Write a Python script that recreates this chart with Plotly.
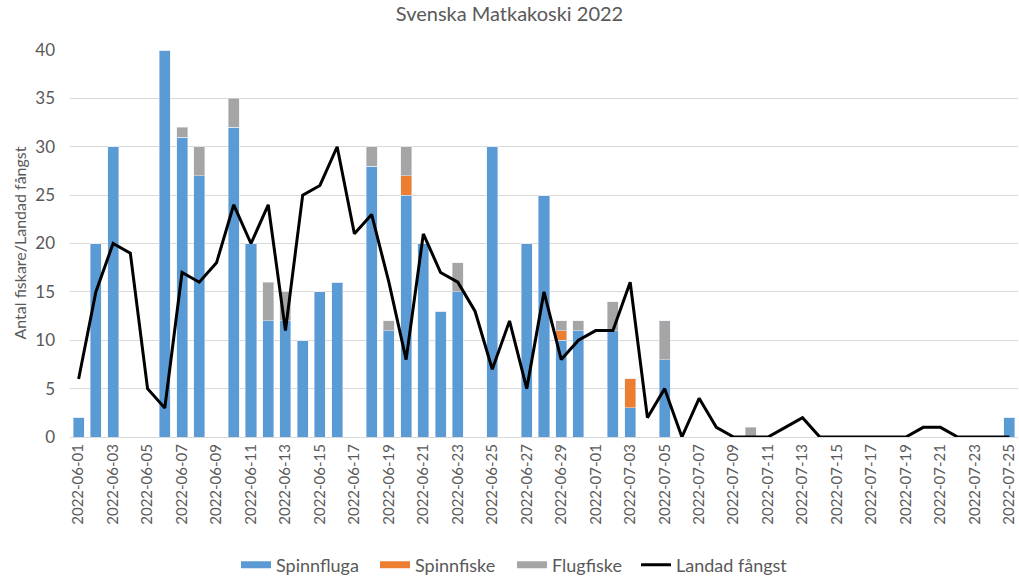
import plotly.graph_objects as go
import pandas as pd

dates = [d.strftime("%Y-%m-%d") for d in pd.date_range("2022-06-01", "2022-07-25")]

spinnfluga = [2, 20, 30, 0, 0, 40, 31, 27, 0, 32, 20, 12, 12, 10, 15, 16, 0, 28, 11, 25,
              20, 13, 15, 0, 30, 0, 20, 25, 10, 11, 0, 11, 3, 0, 8, 0, 0, 0, 0, 0,
              0, 0, 0, 0, 0, 0, 0, 0, 0, 0, 0, 0, 0, 0, 2]
spinnfiske = [0, 0, 0, 0, 0, 0, 0, 0, 0, 0, 0, 0, 0, 0, 0, 0, 0, 0, 0, 2,
              0, 0, 0, 0, 0, 0, 0, 0, 1, 0, 0, 0, 3, 0, 0, 0, 0, 0, 0, 0,
              0, 0, 0, 0, 0, 0, 0, 0, 0, 0, 0, 0, 0, 0, 0]
flugfiske = [0, 0, 0, 0, 0, 0, 1, 3, 0, 3, 0, 4, 3, 0, 0, 0, 0, 2, 1, 3,
             0, 0, 3, 0, 0, 0, 0, 0, 1, 1, 0, 3, 0, 0, 4, 0, 0, 0, 0, 1,
             0, 0, 0, 0, 0, 0, 0, 0, 0, 0, 0, 0, 0, 0, 0]
landad = [6, 15, 20, 19, 5, 3, 17, 16, 18, 24, 20, 24, 11, 25, 26, 30, 21, 23, 16, 8,
          21, 17, 16, 13, 7, 12, 5, 15, 8, 10, 11, 11, 16, 2, 5, 0, 4, 1, 0, 0,
          0, 1, 2, 0, 0, 0, 0, 0, 0, 1, 1, 0, 0, 0, 0]

series = [("Spinnfluga", spinnfluga, "#5B9BD5"),
          ("Spinnfiske", spinnfiske, "#ED7D31"),
          ("Flugfiske", flugfiske, "#A5A5A5")]

font_family = "Lato, 'Open Sans', sans-serif"
txt = "#595959"

W, H = 1019, 577
L, R, T, B = 70, 1, 50, 140
plot_w = W - L - R
plot_h = H - T - B

fig = go.Figure()
for name, vals, col in series:
    fig.add_trace(go.Bar(x=dates, y=vals, name=name, marker_color=col, showlegend=False))
fig.add_trace(go.Scatter(x=dates, y=landad, name="Landad fångst", mode="lines",
                         line=dict(color="black", width=3), showlegend=False))

# legend proxies (wide flat swatches like the original)
legend_ids = ["legend", "legend2", "legend3", "legend4"]
legend_x = [236, 375, 512, 636]
for (name, _, col), lid in zip(series, legend_ids[:3]):
    fig.add_trace(go.Scatter(x=[None], y=[None], mode="lines", name=name,
                             line=dict(color=col, width=7), legend=lid))
fig.add_trace(go.Scatter(x=[None], y=[None], mode="lines", name="Landad fångst",
                         line=dict(color="black", width=3), legend="legend4"))

leg_common = dict(orientation="h", xref="container", yref="container", xanchor="left",
                  y=1 - 565 / H, yanchor="middle", font=dict(size=18, color=txt),
                  bgcolor="rgba(0,0,0,0)", itemclick=False, itemdoubleclick=False)
legend_layout = {lid: dict(x=lx / W, **leg_common) for lid, lx in zip(legend_ids, legend_x)}

fig.add_annotation(text="Antal fiskare/Landad fångst", xref="paper", yref="paper",
                   x=(19 - L) / plot_w, y=0.5, xanchor="center", yanchor="middle",
                   textangle=-90, showarrow=False, font=dict(size=16, color=txt))

fig.update_layout(
    width=W, height=H,
    barmode="stack", bargap=0.36,
    plot_bgcolor="white", paper_bgcolor="white",
    font=dict(family=font_family, color=txt, size=13),
    title=dict(text="Svenska Matkakoski 2022", x=0.5, xanchor="center",
               y=1 - 14 / H, yref="container", yanchor="middle",
               font=dict(size=20, color=txt)),
    margin=dict(l=L, r=R, t=T, b=B, autoexpand=False),
    xaxis=dict(type="category", tickmode="array", tickvals=dates[::2], ticktext=dates[::2],
               tickangle=-90, showgrid=False, showline=True, linecolor="#D9D9D9",
               tickfont=dict(size=15, color=txt), ticks="", automargin=False),
    yaxis=dict(range=[0, 40], dtick=5, showgrid=True, gridcolor="#D9D9D9", gridwidth=1,
               zeroline=False, tickfont=dict(size=17, color=txt), automargin=False,
               ticklabelstandoff=14),
    **legend_layout,
)

fig.write_html("out.html", config={"displayModeBar": False},
               post_script="document.body.style.margin='0';document.body.style.overflow='hidden';")
